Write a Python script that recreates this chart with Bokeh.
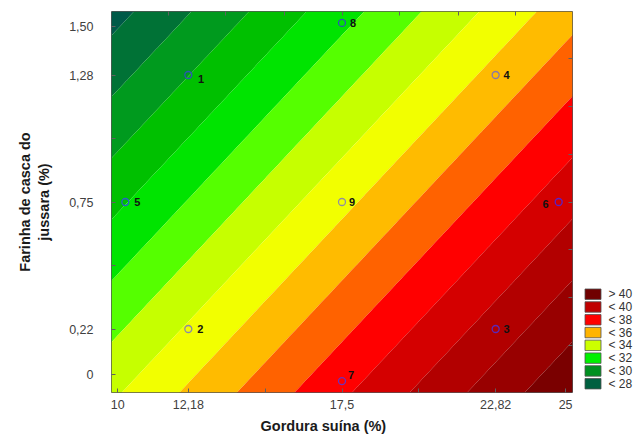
import numpy as np
from bokeh.plotting import figure
from bokeh.models import Range1d, FixedTicker, LinearAxis, ColumnDataSource, Title
from bokeh.layouts import row
from bokeh.embed import file_html
from bokeh.resources import INLINE
from bokeh.core.properties import value

# ---------------- data ----------------
# fitted plane in coded units: z = b0 + bx*x + by*y
surface_intercept = 34.72
surface_coef_x = 2.67
surface_coef_y = -2.07

band_levels = [20, 28, 29, 30, 31, 32, 33, 34, 35, 36, 37, 38, 39, 40, 41, 50]
band_colors = ["#005a48", "#007236", "#009a1e", "#00c000", "#00e400", "#55ff00",
               "#c6ff00", "#f2ff00", "#ffbb00", "#ff6200", "#ff0000", "#d40000",
               "#b20000", "#980000", "#7a0000"]

run_ids = ["1", "2", "3", "4", "5", "6", "7", "8", "9"]
run_x = [-1, -1, 1, 1, -1.41, 1.41, 0, 0, 0]
run_y = [1, -1, -1, 1, 0, 0, -1.41, 1.41, 0]
run_colors = ["#2a55b5", "#8a8aa8", "#5a28b8", "#8a78a8", "#2a60c8",
              "#5a20c8", "#6a30c0", "#2a55b5", "#9090a0"]

x_tick_pos = [-1.46, -1, 0, 1, 1.455]
x_tick_labels = ["10", "12,18", "17,5", "22,82", "25"]
y_tick_pos = [-1.36, -1, 0, 1, 1.38]
y_tick_labels = ["0", "0,22", "0,75", "1,28", "1,50"]

x_title = "Gordura suína (%)"
y_title = "Farinha de casca do\njussara (%)"

legend_labels = ["> 40", "< 40", "< 38", "< 36", "< 34", "< 32", "< 30", "< 28"]
legend_colors = ["#700000", "#c00000", "#ff0000", "#ffb400", "#ccff00", "#00f000", "#009020", "#006040"]

# ---------------- styles ----------------
label_dx = [12.7, 12, 11, 11, 12, -13, 9, 11, 10]
label_dy = [3.7, 0, 0, 0, 0, 2, -6, 0, 0]
FONT = "Liberation Sans"

# ---------------- main figure ----------------
p = figure(width=578, height=438, output_backend="svg", toolbar_location=None,
           x_range=Range1d(-1.5, 1.5), y_range=Range1d(-1.5, 1.5),
           min_border_left=111, min_border_right=6, min_border_top=11, min_border_bottom=45)
p.grid.visible = False
p.outline_line_color = "#555555"
p.outline_line_width = 1
p.background_fill_color = "white"

gx = np.linspace(-1.5, 1.5, 61)
gy = np.linspace(-1.5, 1.5, 61)
X, Y = np.meshgrid(gx, gy)
Z = surface_intercept + surface_coef_x * X + surface_coef_y * Y
p.contour(gx, gy, Z, band_levels, fill_color=band_colors, line_color=None)

src = ColumnDataSource(dict(x=run_x, y=run_y, id=run_ids, c=run_colors, dx=label_dx, dy=label_dy))
p.scatter("x", "y", source=src, marker="circle", size=7, fill_color=None,
          line_color="c", line_width=1.3)
p.text("x", "y", text="id", source=src, x_offset="dx", y_offset="dy",
       text_font=value(FONT), text_font_size="11px", text_font_style="bold",
       text_color="#111111", text_align="center", text_baseline="middle")

for ax in (p.xaxis[0], p.yaxis[0]):
    ax.axis_line_color = None
    ax.major_tick_in = 4
    ax.major_tick_out = 0
    ax.minor_tick_in = 4
    ax.minor_tick_out = 0
    ax.major_tick_line_color = "#606060"
    ax.minor_tick_line_color = "#606060"
    ax.major_label_text_font = FONT
    ax.major_label_text_font_size = "12.5px"
    ax.major_label_text_color = "#404040"
    ax.axis_label_text_font = FONT
    ax.axis_label_text_font_size = "14.5px"
    ax.axis_label_text_font_style = "bold"
    ax.axis_label_text_color = "#1a1a1a"

p.xaxis[0].ticker = FixedTicker(ticks=x_tick_pos, minor_ticks=[-0.5, 0.5])
p.xaxis[0].major_label_overrides = {k: v for k, v in zip(x_tick_pos, x_tick_labels)}
p.xaxis[0].major_label_standoff = 7

p.yaxis[0].ticker = FixedTicker(ticks=y_tick_pos, minor_ticks=[-0.5, 0.5])
p.yaxis[0].major_label_overrides = {k: v for k, v in zip(y_tick_pos, y_tick_labels)}
p.yaxis[0].major_label_standoff = 18
p.yaxis[0].axis_label = y_title
p.yaxis[0].axis_label_standoff = 14

tx = Title(text=x_title, align="left", offset=149, standoff=9,
           text_font=FONT, text_font_size="14.5px", text_font_style="bold",
           text_color="#1a1a1a")
p.add_layout(tx, "below")

side_ticks = [-1.13, -0.755, -0.377, 0, 0.377, 0.755, 1.13]
for loc in ("above", "right"):
    ax = LinearAxis(ticker=FixedTicker(ticks=[], minor_ticks=side_ticks))
    ax.axis_line_color = None
    ax.minor_tick_in = 4
    ax.minor_tick_out = 0
    ax.minor_tick_line_color = "#606060"
    ax.major_tick_in = 0
    ax.major_tick_out = 0
    ax.major_label_standoff = 0
    p.add_layout(ax, loc)

# ---------------- legend figure ----------------
lg = figure(width=61, height=438, output_backend="svg", toolbar_location=None,
            x_range=Range1d(0, 61), y_range=Range1d(438, 0),
            min_border=0, min_border_left=0, min_border_right=0,
            min_border_top=0, min_border_bottom=0)
lg.axis.visible = False
lg.grid.visible = False
lg.outline_line_color = None
idx = np.arange(len(legend_labels))
ly = 325 + 14.7 * idx
lsrc = ColumnDataSource(dict(y=ly, c=legend_colors, t=legend_labels))
lg.rect(x=14.5, y="y", width=16, height=12, source=lsrc, fill_color="c",
        line_color="#505050", line_width=0.8)
lg.text(x=30, y="y", text="t", source=lsrc, text_font=value(FONT),
        text_font_size="12px", text_color="#333333", text_baseline="middle",
        text_align="left")

layout = row(p, lg)
open("out.html", "w").write(file_html(layout, INLINE))
